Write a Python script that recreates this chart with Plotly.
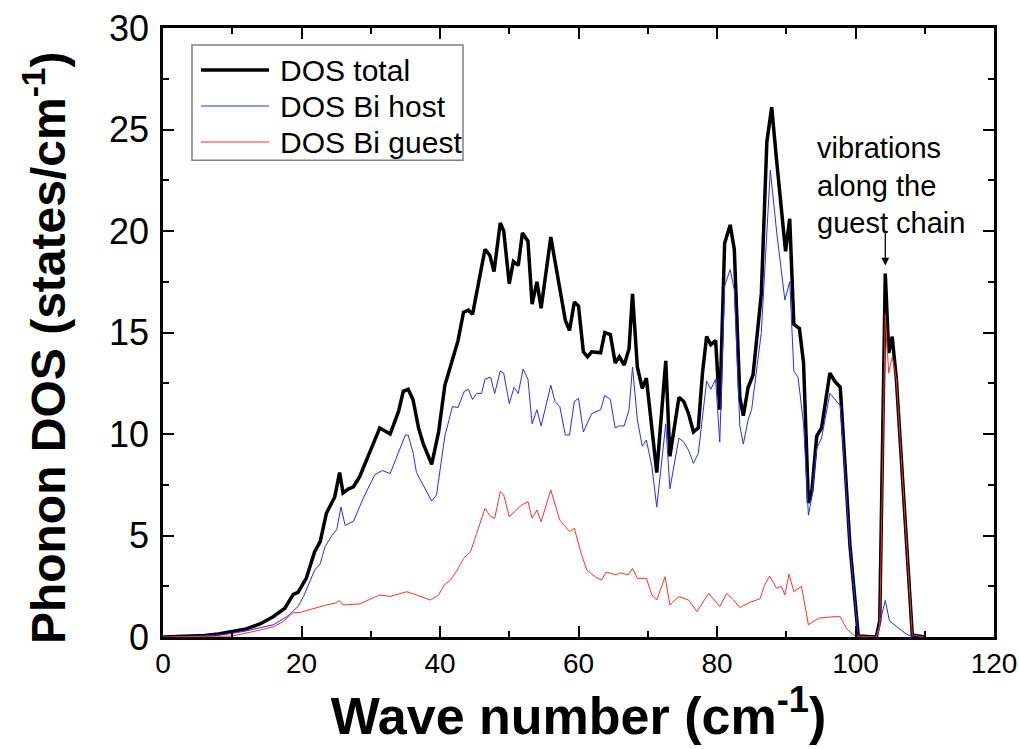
import plotly.graph_objects as go

# DOS total (black)
total_x = [0, 3, 6, 8, 10, 12, 14, 15.9, 17.6, 18.8,
           19.5, 20.7, 21.9, 22.7, 23.6, 24.4, 24.8, 25.5, 26.0, 26.8,
           27.5, 28.4, 29.9, 31.3, 32.8, 34.0, 34.7, 35.4, 36.1, 36.9,
           37.6, 38.8, 39.8, 40.7, 41.4, 42.2, 42.6, 43.4, 44.1, 44.7,
           45.3, 46.5, 47.2, 47.8, 48.7, 49.2, 50.0, 50.6, 51.3, 51.9,
           52.7, 53.3, 54.0, 54.6, 56.0, 56.8, 57.3, 58.1, 58.7, 59.4,
           60.0, 60.7, 61.3, 61.9, 63.2, 63.8, 64.6, 65.3, 65.9, 66.6,
           67.3, 67.8, 68.5, 69.2, 69.8, 70.6, 71.3, 72.6, 73.2, 74.5,
           75.2, 75.9, 76.6, 77.3, 77.9, 78.5, 79.1, 79.8, 80.4, 81.1,
           81.9, 82.5, 83.3, 83.8, 84.5, 85.2, 86.4, 87.2, 87.9, 88.6,
           89.3, 89.9, 90.5, 91.1, 91.9, 92.5, 93.2, 93.7, 94.4, 95.1,
           96.3, 97.0, 97.8, 99.2, 100.4, 103.0, 103.5, 104.3, 104.8, 105.3,
           105.9, 108.2, 110.0]
total_y = [0, 0.03, 0.08, 0.15, 0.26, 0.4, 0.64, 1.0, 1.42, 2.1,
           2.2, 2.9, 4.2, 4.7, 6.1, 6.7, 6.9, 8.1, 7.1, 7.3,
           7.4, 7.9, 9.2, 10.3, 10.0, 11.1, 12.1, 12.2, 11.7, 10.3,
           9.5, 8.5, 10.1, 12.4, 13.2, 14.2, 14.6, 16.0, 16.1, 15.9,
           16.9, 19.1, 18.8, 18.0, 20.4, 20.0, 17.4, 18.5, 18.3, 19.9,
           19.5, 16.4, 17.5, 16.2, 19.7, 18.1, 17.3, 15.6, 15.1, 16.5,
           16.3, 14.05, 13.8, 14.05, 14.0, 15.0, 14.9, 13.5, 13.8, 13.4,
           14.2, 16.9, 13.3, 12.25, 12.75, 10.4, 8.1, 13.6, 8.9, 11.8,
           11.6, 11.0, 10.1, 10.3, 13.0, 14.8, 14.4, 14.6, 11.2, 19.4,
           20.3, 19.1, 11.8, 10.9, 12.3, 12.9, 16.9, 24.4, 26.1, 23.5,
           20.9, 19.0, 20.6, 15.4, 15.2, 13.5, 6.6, 7.2, 9.9, 10.3,
           13.0, 12.6, 12.3, 4.5, 0.05, 0.0, 0.8, 17.9, 14.0, 14.8,
           12.7, 0.1, 0.0]

# DOS Bi host (blue)
host_x = [0, 3, 6, 8, 10, 12, 14, 15.9, 17.9, 19.5,
          20.3, 21.1, 21.9, 22.7, 23.4, 24.4, 25.1, 25.7, 26.3, 27.5,
          29.0, 30.6, 31.7, 32.8, 34.0, 35.0, 35.4, 36.1, 36.6, 37.7,
          38.8, 39.5, 40.7, 41.8, 42.6, 43.5, 44.1, 44.7, 45.3, 46.0,
          46.5, 47.3, 47.9, 48.7, 49.2, 50.0, 50.7, 51.3, 52.0, 52.7,
          53.3, 54.0, 54.6, 56.0, 56.6, 57.3, 58.1, 58.7, 59.4, 60.0,
          60.7, 61.9, 63.2, 63.8, 64.6, 65.3, 65.9, 66.6, 67.3, 67.8,
          68.5, 69.2, 69.8, 70.6, 71.3, 72.6, 73.2, 74.5, 75.2, 75.9,
          76.6, 77.3, 77.9, 78.5, 79.1, 79.8, 80.4, 81.1, 81.9, 82.5,
          83.3, 83.8, 84.5, 85.0, 86.4, 87.2, 87.7, 88.6, 89.3, 89.8,
          90.5, 91.1, 91.7, 92.5, 93.2, 93.7, 94.4, 95.1, 96.3, 97.8,
          99.2, 100.4, 103.0, 104.3, 104.9, 106.0, 107.3, 108.3, 110.0]
host_y = [0, 0.02, 0.06, 0.1, 0.18, 0.3, 0.45, 0.6, 1.0, 1.5,
          2.0, 2.65, 3.3, 3.6, 4.45, 5.0, 5.3, 6.4, 5.5, 5.7,
          6.9, 8.0, 8.2, 8.05, 9.05, 9.95, 9.95, 9.1, 8.1, 7.4,
          6.7, 7.0, 9.9, 11.35, 11.3, 12.1, 12.2, 11.7, 12.0, 12.0,
          12.7, 12.8, 12.0, 13.1, 13.0, 11.5, 12.3, 12.0, 13.2, 12.7,
          10.5, 11.2, 10.4, 12.4, 11.6, 11.35, 9.95, 9.95, 11.6, 11.76,
          10.1, 11.0, 11.2, 11.9, 11.7, 10.3, 10.4, 10.4, 11.2, 13.3,
          10.7, 9.4, 9.7, 8.4, 6.4, 10.5, 7.3, 9.8, 9.6, 9.2,
          8.55, 9.05, 11.0, 12.6, 12.2, 12.7, 9.6, 17.3, 18.1, 17.1,
          10.4, 9.5, 10.7, 11.2, 15.0, 20.0, 23.0, 20.0, 18.1, 16.6,
          17.5, 13.1, 12.8, 10.5, 6.0, 6.9, 9.3, 9.8, 12.0, 11.4,
          4.4, 0.0, 0.0, 1.8, 0.8, 0.5, 0.15, 0.0, 0.0]

# DOS Bi guest (red)
guest_x = [0, 6, 10, 14, 15.9, 17.3, 18.3, 18.8, 19.7, 20.7,
           22.1, 23.6, 24.8, 25.5, 26.0, 27.5, 28.4, 29.9, 31.3, 32.8,
           35.2, 36.6, 38.6, 39.8, 40.6, 41.5, 42.5, 43.4, 44.4, 45.3,
           46.5, 47.3, 47.9, 48.7, 49.2, 50.0, 50.8, 51.8, 52.7, 53.3,
           54.0, 54.6, 56.0, 57.3, 58.7, 59.4, 60.4, 61.2, 62.4, 63.3,
           64.0, 64.8, 65.4, 66.0, 67.2, 67.8, 68.5, 69.8, 70.6, 71.3,
           72.5, 73.2, 74.5, 75.9, 77.1, 78.8, 80.4, 81.4, 82.4, 83.3,
           84.8, 86.2, 86.9, 87.6, 88.6, 89.3, 89.8, 90.4, 91.1, 92.2,
           93.2, 93.9, 94.7, 96.8, 97.8, 98.7, 99.9, 103.0, 103.5, 104.3,
           104.8, 105.3, 105.9, 108.2, 110.0]
guest_y = [0, 0.01, 0.05, 0.34, 0.5, 0.75, 1.08, 1.2, 1.2, 1.3,
           1.46, 1.58, 1.66, 1.79, 1.58, 1.63, 1.63, 1.86, 2.07, 2.0,
           2.23, 2.07, 1.82, 2.07, 2.56, 2.8, 3.3, 3.87, 4.2, 5.1,
           6.34, 5.93, 5.85, 7.16, 7.0, 5.93, 6.17, 6.5, 6.67, 5.85,
           6.26, 5.68, 7.24, 5.76, 5.19, 5.35, 4.1, 3.3, 2.97, 2.8,
           3.2, 3.14, 3.06, 3.16, 3.06, 3.38, 2.89, 2.89, 2.07, 1.82,
           2.97, 1.58, 1.99, 1.82, 1.25, 2.15, 1.5, 2.15, 1.82, 1.45,
           1.71, 1.88, 2.58, 3.0, 2.4, 2.5, 2.07, 3.1, 2.23, 2.5,
           0.6, 0.76, 0.93, 1.0, 1.0, 0.41, 0.05, 0.0, 0.5, 15.9,
           13.0, 13.8, 12.7, 0.1, 0.0]

series_names = ['DOS total', 'DOS Bi host', 'DOS Bi guest']
series_colors = ['black', '#2a2aff', '#ff3030']
series_widths = [3.5, 1, 1]

ARIAL = "Liberation Sans, Arial, sans-serif"

fig = go.Figure()
for (xs, ys), name, color, w in zip([(total_x, total_y), (host_x, host_y), (guest_x, guest_y)],
                                    series_names, series_colors, series_widths):
    fig.add_trace(go.Scatter(x=xs, y=ys, mode='lines', name=name,
                             line=dict(color=color, width=w), showlegend=False))

# 범례 (수동 배치: 줄 간격을 원본과 맞추기 위해)
fig.add_shape(type='rect', xref='paper', yref='paper', x0=0.0349, x1=0.361, y0=0.783, y1=0.972,
              line=dict(color='#808080', width=1.5), fillcolor='white', layer='above')
for i, (name, color, w) in enumerate(zip(series_names, series_colors, series_widths)):
    yy = 0.931 - i * 0.0591
    fig.add_shape(type='line', xref='paper', yref='paper', x0=0.0457, x1=0.1276, y0=yy, y1=yy,
                  line=dict(color=color, width=w), layer='above')
    fig.add_annotation(x=0.1384, y=yy, xref='paper', yref='paper', xanchor='left', yanchor='middle',
                       text=name, showarrow=False, font=dict(family=ARIAL, size=30, color='black'))

# 주석: 게스트 체인 진동
fig.add_annotation(x=94.1, y=25.0, xref='x', yref='y', xanchor='left', yanchor='top',
                   text="vibrations<br>along the<br>guest chain", showarrow=False,
                   align='left', font=dict(family=ARIAL, size=29, color='black'))
fig.add_annotation(x=104.3, y=18.3, ax=104.3, ay=20.0, xref='x', yref='y',
                   axref='x', ayref='y', text='', showarrow=True,
                   arrowhead=2, arrowsize=1.2, arrowwidth=1.3, arrowcolor='black')

# y축 제목
fig.add_annotation(x=-0.142, y=0.476, xref='paper', yref='paper', textangle=-90,
                   xanchor='center', yanchor='middle',
                   text="<b>Phonon DOS (states/cm<sup>-1</sup>)</b>", showarrow=False,
                   font=dict(family=ARIAL, size=48, color='black'))

axis_common = dict(showline=True, linecolor='black', linewidth=2.5, mirror='ticks',
                   ticks='inside', ticklen=11, tickwidth=2, tickcolor='black',
                   showgrid=False, zeroline=False, automargin=False,
                   ticklabeloverflow='allow')

fig.update_layout(
    width=1019, height=749,
    margin=dict(l=163, r=25, t=28, b=112),
    plot_bgcolor='white', paper_bgcolor='white',
    font=dict(family=ARIAL, color='black'),
    showlegend=False,
    xaxis=dict(range=[0, 120], tick0=0, dtick=20,
               minor=dict(dtick=10, ticks='inside', ticklen=6, tickwidth=2, tickcolor='black'),
               tickfont=dict(family=ARIAL, size=28),
               ticklabelstandoff=0,
               title=dict(text="Wave number (cm<sup>-1</sup>)", standoff=6,
                          font=dict(family=ARIAL, size=52, weight='bold')),
               **axis_common),
    yaxis=dict(range=[0, 30], tick0=0, dtick=5,
               minor=dict(dtick=2.5, ticks='inside', ticklen=6, tickwidth=2, tickcolor='black'),
               tickfont=dict(family=ARIAL, size=36),
               ticklabelstandoff=4,
               **axis_common),
)

# 페이지 기본 여백 제거, 툴바 숨김
fig.write_html("out.html", config={'displayModeBar': False},
               post_script="document.body.style.margin='0';")
